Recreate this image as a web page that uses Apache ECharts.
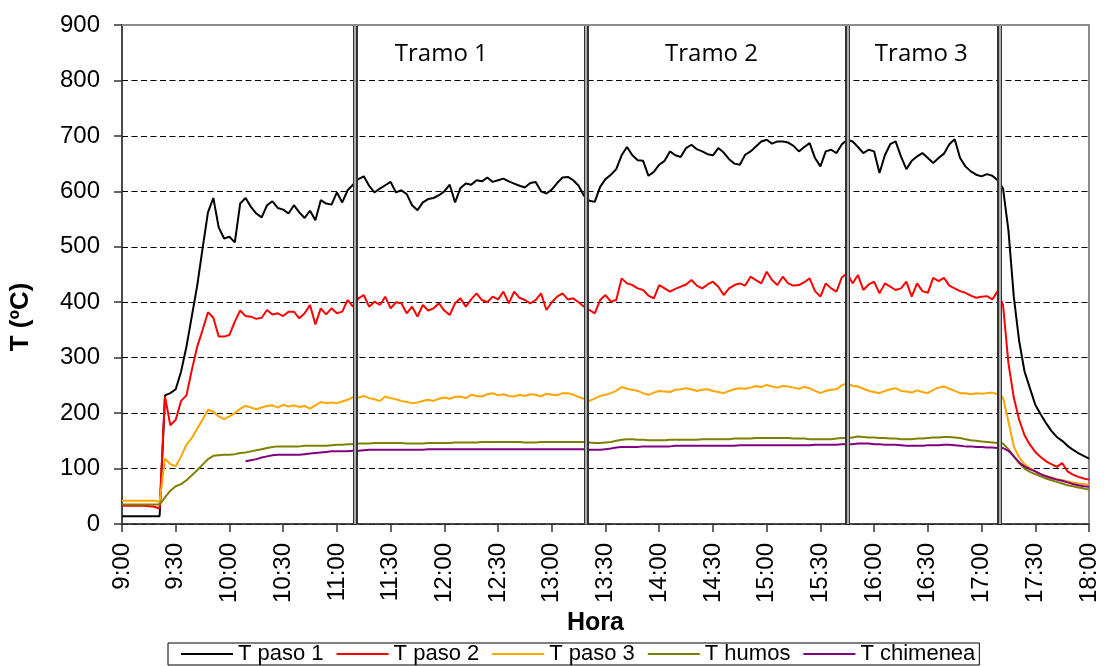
<!DOCTYPE html>
<html><head><meta charset="utf-8">
<script src="https://cdn.jsdelivr.net/npm/echarts@6/dist/echarts.min.js"></script>
<style>html,body{margin:0;padding:0;background:#fff}#c{width:1104px;height:666px}</style>
</head><body><div id="c"></div>
<script>
// samples every 3 minutes starting at 9:00 (minute 0) up to 18:00 (minute 540)
const stepMinutes = 3;

const tPaso1 = [
 14,14,14,14,14,14,14,14,232,236,
 243,275,320,375,430,497,562,588,535,515,
 518,508,578,588,572,560,553,575,582,570,
 567,560,575,562,552,565,548,584,578,576,
 598,580,602,612,622,627,610,598,605,611,
 617,598,602,595,575,566,580,586,588,593,
 600,612,580,606,614,612,620,618,625,617,
 620,623,618,614,610,607,615,617,600,596,
 603,615,625,626,620,610,592,583,581,608,
 622,630,640,665,680,665,656,655,628,635,
 648,655,672,665,662,678,684,676,672,667,
 665,678,670,658,650,648,666,672,681,690,
 693,686,690,690,688,682,672,680,687,660,
 645,672,675,669,685,693,690,680,669,675,
 672,633,665,685,690,663,640,655,663,669,
 660,651,660,668,685,694,660,645,636,630,
 627,631,628,620,605,530,410,330,275,245,
 215,198,182,168,157,150,141,134,128,123,
 118];

const tPaso2 = [
 33,33,33,33,33,32,31,28,230,178,
 188,222,232,278,320,350,382,372,338,338,
 341,365,385,375,374,370,372,386,378,380,
 375,383,383,371,380,395,360,389,378,389,
 380,383,404,392,407,413,392,401,395,410,
 389,400,398,380,392,374,395,385,389,398,
 385,377,398,407,392,405,416,404,400,410,
 405,419,398,419,408,404,398,404,416,386,
 400,410,416,405,407,400,392,386,380,404,
 413,401,404,443,434,431,425,422,412,407,
 431,425,419,424,428,432,440,430,425,432,
 437,428,413,425,431,434,430,446,440,434,
 455,440,431,446,434,430,431,436,443,420,
 410,434,425,419,445,452,434,449,422,432,
 437,416,434,428,422,425,437,410,434,420,
 417,444,438,444,430,425,420,417,412,408,
 410,411,405,420,395,290,228,188,160,143,
 130,121,113,108,103,110,95,89,85,82,
 80];

const tPaso3 = [
 42,42,42,42,42,42,42,40,118,108,
 104,122,143,155,172,188,206,203,194,189,
 194,200,208,213,210,207,210,213,214,210,
 215,212,214,211,213,208,214,220,218,219,
 218,221,224,229,228,231,227,225,222,230,
 227,225,222,220,218,219,222,224,222,226,
 228,226,229,230,227,233,231,230,234,236,
 232,234,231,230,233,231,234,233,230,235,
 233,232,236,236,233,229,226,222,226,231,
 233,236,240,247,244,242,240,236,233,237,
 240,239,238,242,243,245,243,240,242,243,
 240,238,236,240,243,245,244,246,249,247,
 251,248,246,249,248,246,244,247,245,240,
 236,240,242,243,250,254,249,248,244,240,
 238,236,240,243,245,240,239,237,241,238,
 236,242,246,248,244,240,236,236,234,236,
 235,236,237,234,228,185,140,120,108,101,
 95,90,86,84,81,79,77,75,73,72,
 71];

const tHumos = [
 35,35,35,35,35,35,35,35,48,60,
 68,72,79,88,97,107,117,123,124,125,
 125,126,128,129,131,133,135,137,139,140,
 140,140,140,140,141,141,141,141,141,142,
 143,143,144,144,145,145,145,146,146,146,
 146,146,146,145,145,145,145,146,146,146,
 146,146,147,147,147,147,147,148,148,148,
 148,148,148,148,148,147,147,147,148,148,
 148,148,148,148,148,148,148,147,146,146,
 147,148,150,152,153,153,152,152,151,151,
 151,151,152,152,152,152,152,152,153,153,
 153,153,153,153,154,154,154,154,155,155,
 155,155,155,155,155,154,154,154,153,153,
 153,153,153,154,155,155,156,158,157,156,
 156,155,155,154,154,153,153,153,154,154,
 155,156,156,157,157,156,155,153,151,150,
 149,148,147,146,145,135,122,110,100,94,
 90,86,82,79,76,73,70,68,66,64,
 62];

const tChimenea = [
 null,null,null,null,null,null,null,null,null,null,
 null,null,null,null,null,null,null,null,null,null,
 null,null,null,113,115,117,120,122,124,125,
 125,125,125,125,126,127,128,129,130,131,
 131,131,131,132,132,133,134,134,134,134,
 134,134,134,134,134,134,134,135,135,135,
 135,135,135,135,135,135,135,135,135,135,
 135,135,135,135,135,135,135,135,135,135,
 135,135,135,135,135,135,135,134,134,134,
 135,136,138,139,139,139,139,140,140,140,
 140,140,140,141,141,141,141,141,141,141,
 141,141,141,141,141,142,142,142,142,142,
 142,142,142,142,142,142,142,142,142,143,
 143,143,143,143,144,144,144,145,145,145,
 144,144,143,143,143,142,141,141,141,141,
 142,142,142,143,143,142,141,140,140,139,
 139,138,138,137,137,132,122,111,104,99,
 95,90,86,83,80,78,75,72,70,68,
 67];

// section limits (minutes after 9:00) and names
const tramoLimits = [130, 259, 405, 490];
const tramoNames = ['Tramo 1', 'Tramo 2', 'Tramo 3'];

const xTickLabels = ['9:00','9:30','10:00','10:30','11:00','11:30','12:00','12:30','13:00','13:30',
 '14:00','14:30','15:00','15:30','16:00','16:30','17:00','17:30','18:00'];

const seriesNames = ['T paso 1', 'T paso 2', 'T paso 3', 'T humos', 'T chimenea'];
const seriesValues = [tPaso1, tPaso2, tPaso3, tHumos, tChimenea];
const seriesColors = ['#000000', '#ff0000', '#ffa500', '#808000', '#800080'];
const tramoLabelOffsets = [-29, -5, -2];

const FONT = 'Liberation Sans, Arial, sans-serif';

const series = seriesNames.map((name, k) => ({
  name: name,
  type: 'line',
  showSymbol: false,
  symbol: 'none',
  connectNulls: false,
  animation: false,
  lineStyle: { color: seriesColors[k], width: 2 },
  itemStyle: { color: seriesColors[k] },
  data: seriesValues[k].map((v, i) => [i * stepMinutes, v])
}));

// section separators, section labels and top frame line on the last series
series[series.length - 1].markLine = {
  symbol: ['none', 'none'],
  silent: true,
  animation: false,
  label: { show: false },
  data: [
    ...tramoLimits.map(x => ({ xAxis: x, lineStyle: { color: '#333333', width: 5, type: 'solid' } })),
    ...tramoLimits.map(x => ({ xAxis: x, lineStyle: { color: '#d6d6d6', width: 1.5, type: 'solid' } })),
    { yAxis: 900, lineStyle: { color: '#8c8c8c', width: 2, type: 'solid' } }
  ]
};
series[series.length - 1].markArea = {
  silent: true,
  animation: false,
  itemStyle: { color: 'rgba(0,0,0,0)' },
  label: { show: true, position: 'insideTop', distance: 17, fontFamily: 'Open Sans, sans-serif', fontSize: 24, color: '#000' },
  data: tramoNames.map((n, i) => [
    { xAxis: tramoLimits[i], name: n, label: { offset: [tramoLabelOffsets[i], 0] } },
    { xAxis: tramoLimits[i + 1] }
  ])
};

const chart = echarts.init(document.getElementById('c'), null, { renderer: 'canvas' });
chart.setOption({
  animation: false,
  backgroundColor: '#ffffff',
  grid: { left: 120, right: 15, top: 25, bottom: 142, show: true, borderColor: '#8c8c8c', borderWidth: 2, backgroundColor: 'transparent' },
  xAxis: {
    type: 'value', min: 0, max: 540, interval: 30,
    name: 'Hora', nameLocation: 'middle', nameGap: 80,
    nameTextStyle: { fontFamily: FONT, fontWeight: 'bold', fontSize: 25, color: '#000', padding: [0, 20, 0, 0] },
    axisLine: { show: true, onZero: false, lineStyle: { color: '#333', width: 1.5 } },
    axisTick: { show: true, length: 8, lineStyle: { color: '#333', width: 1.5 } },
    axisLabel: { rotate: 90, margin: 19, fontSize: 24, fontFamily: FONT, color: '#000', formatter: v => xTickLabels[Math.round(v / 30)] },
    splitLine: { show: false }
  },
  yAxis: {
    type: 'value', min: 0, max: 900, interval: 100,
    name: 'T (ºC)', nameLocation: 'middle', nameGap: 88,
    nameTextStyle: { fontFamily: FONT, fontWeight: 'bold', fontSize: 26, color: '#000', padding: [0, 85, 0, 0] },
    axisLine: { show: true, lineStyle: { color: '#333', width: 1.5 } },
    axisTick: { show: true, length: 8, lineStyle: { color: '#333', width: 1.5 } },
    axisLabel: { margin: 22, fontSize: 24, fontFamily: FONT, color: '#000' },
    splitLine: { show: true, lineStyle: { color: '#000', type: [6, 3.5], width: 1 } }
  },
  legend: {
    data: seriesNames, left: 168, bottom: 1, icon: 'rect', itemWidth: 52, itemHeight: 2, itemGap: 13,
    borderColor: '#000', borderWidth: 1, padding: [0, 4, 0, 13], selectedMode: false,
    textStyle: { fontFamily: FONT, fontSize: 22, color: '#000', lineHeight: 22 }
  },
  series: series
});
</script></body></html>
